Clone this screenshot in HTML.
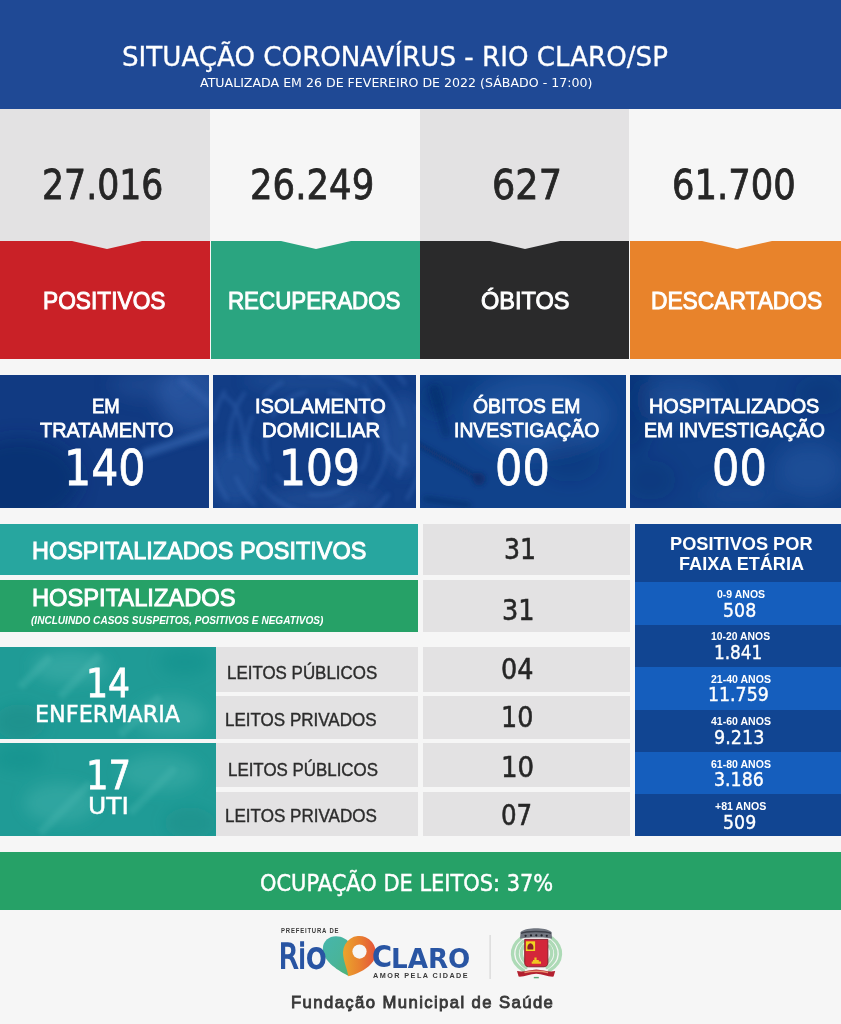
<!DOCTYPE html>
<html lang="pt-BR">
<head>
<meta charset="utf-8">
<title>Situação Coronavírus - Rio Claro/SP</title>
<style>
html,body{margin:0;padding:0;background:#f6f6f6;}
#board{position:relative;width:841px;height:1024px;overflow:hidden;background:#f6f6f6;font-family:"DejaVu Sans",sans-serif;}
.t{position:absolute;white-space:nowrap;line-height:1;color:#fff;transform-origin:0 0;font-family:"DejaVu Sans",sans-serif;font-weight:400;}
.t.o{font-family:"Liberation Sans",sans-serif;}
.t.b{font-weight:700;}
.t.i{font-style:italic;}
.top{position:absolute;left:0;top:0;width:841px;height:109px;background:#1f4995;}
.card .val,.card .tag,.card .notch{position:absolute;}
.card .val{top:109px;height:131.7px;}
.card .tag{top:240.7px;height:117.9px;}
.card.red .val,.card.red .tag{left:0;width:209.8px;}
.card.green .val,.card.green .tag{left:211px;width:209px;}
.card.dark .val,.card.dark .tag{left:420px;width:209.4px;}
.card.orange .val,.card.orange .tag{left:630.2px;width:210.8px;}
.card.red .val,.card.dark .val{background:#e3e2e3;}
.card.green .val,.card.orange .val{background:#f6f6f6;}
.card.red .tag{background:#c92127;}
.card.green .tag{background:#2aa580;}
.card.dark .tag{background:#2a2a2b;}
.card.orange .tag{background:#e8832b;}
.card .notch{top:240.5px;width:0;height:0;border-left:35px solid transparent;border-right:35px solid transparent;border-top:8.5px solid #e3e2e3;}
.card.green .notch,.card.orange .notch{border-top-color:#f6f6f6;}
.card.red .notch{left:72px;}
.card.green .notch{left:281px;}
.card.dark .notch{left:490px;}
.card.orange .notch{left:702px;}
.st{position:absolute;top:374.7px;height:133px;background:#113a82;overflow:hidden;}
.st1{left:0;width:208.9px;}
.st2{left:212.6px;width:203.7px;background:#123d86;}
.st3{left:420.2px;width:205.6px;background:#10428b;}
.st4{left:629.9px;width:211.1px;background:#103f87;}
.bar,.vc,.lc,.ward{position:absolute;}
.bar{left:0;width:417.6px;}
.hp{top:523.6px;height:51.8px;background:#27a69f;}
.hh{top:580.1px;height:51.8px;background:#26a167;}
.vc{left:422.8px;width:207.4px;background:#e3e2e3;}
.v1{top:523.6px;height:51.8px;}
.v2{top:580.1px;height:51.8px;}
.ward{left:0;width:215.9px;background:#1f9b96;overflow:hidden;}
.w1{top:646.8px;height:92px;}
.w2{top:743.3px;height:93px;}
.lc{left:216px;width:202px;background:#e3e2e3;}
.l1,.r1{top:646.8px;height:44.8px;}
.l2,.r2{top:695.7px;height:43.2px;}
.l3,.r3{top:743.3px;height:43.7px;}
.l4,.r4{top:791.7px;height:44.6px;}
.ages .ah,.ages .ar{position:absolute;left:634.7px;width:206.3px;}
.ah{top:523.6px;height:58.9px;background:#114592;}
.ar{height:42.5px;background:#155ebd;}
.a1{top:582.4px}.a2{top:624.8px;background:#114592}.a3{top:667.2px}.a4{top:709.6px;background:#114592}.a5{top:752px}.a6{top:794.4px;height:41.9px;background:#114592}
.occ{position:absolute;left:0;top:851.8px;width:841px;height:58px;background:#26a167;}
.occ .t,.top .t{}
.foot svg{position:absolute;left:270px;top:920px;}
.tx{position:absolute;left:0;top:0;right:0;bottom:0;}
</style>
</head>
<body>
<main id="board">
<header><div class="top"></div>
<span class="t" style="left:121.98px;top:44.00px;font-size:26.71px;transform:scaleX(0.9785);-webkit-text-stroke:0.32px;">SITUAÇÃO CORONAVÍRUS - RIO CLARO/SP</span>
<span class="t" style="left:200.30px;top:78.00px;font-size:11.92px;transform:scaleX(1.0569);">ATUALIZADA EM 26 DE FEVEREIRO DE 2022 (SÁBADO - 17:00)</span>
</header>
<section class="totals">
<article class="card red"><div class="val"></div><div class="tag"></div><i class="notch"></i>
<span class="t" style="left:42.34px;top:165.20px;font-size:40.68px;transform:scaleX(0.8531);color:#262626;-webkit-text-stroke:0.81px;">27.016</span>
<span class="t o" style="left:43.22px;top:288.70px;font-size:24.20px;transform:scaleX(0.9393);-webkit-text-stroke:0.97px;">POSITIVOS</span>
</article>
<article class="card green"><div class="val"></div><div class="tag"></div><i class="notch"></i>
<span class="t" style="left:249.81px;top:165.20px;font-size:40.68px;transform:scaleX(0.8733);color:#262626;-webkit-text-stroke:0.81px;">26.249</span>
<span class="t o" style="left:228.22px;top:288.70px;font-size:24.20px;transform:scaleX(0.9231);-webkit-text-stroke:0.97px;">RECUPERADOS</span>
</article>
<article class="card dark"><div class="val"></div><div class="tag"></div><i class="notch"></i>
<span class="t" style="left:492.26px;top:165.20px;font-size:40.68px;transform:scaleX(0.9012);color:#262626;-webkit-text-stroke:0.81px;">627</span>
<span class="t o" style="left:480.70px;top:288.70px;font-size:24.20px;transform:scaleX(0.9726);-webkit-text-stroke:0.97px;">ÓBITOS</span>
</article>
<article class="card orange"><div class="val"></div><div class="tag"></div><i class="notch"></i>
<span class="t" style="left:672.11px;top:165.20px;font-size:40.68px;transform:scaleX(0.8704);color:#262626;-webkit-text-stroke:0.81px;">61.700</span>
<span class="t o" style="left:650.51px;top:288.70px;font-size:24.20px;transform:scaleX(0.9410);-webkit-text-stroke:0.97px;">DESCARTADOS</span>
</article>
</section>
<section class="status">
<article class="stc"><div class="st st1"><svg class="tx" width="209" height="133" viewBox="0 0 209 133" aria-hidden="true"><defs><filter id="c1" x="-20%" y="-20%" width="140%" height="140%"><feGaussianBlur stdDeviation="9"/></filter><filter id="c1s" x="-20%" y="-20%" width="140%" height="140%"><feGaussianBlur stdDeviation="2.8"/></filter></defs><g filter="url(#c1)"><ellipse cx="192" cy="22" rx="34" ry="34" fill="#3b6cb8" opacity=".45"/>
<ellipse cx="150" cy="10" rx="40" ry="14" fill="#3b6cb8" opacity=".25"/>
<ellipse cx="20" cy="105" rx="60" ry="42" fill="#0b2a66" opacity=".5"/></g>
<g filter="url(#c1s)"><path d="M212 56 L146 78" stroke="#3b6cb8" stroke-width="9" opacity=".55" stroke-linecap="round"/>
<path d="M212 30 L180 4" stroke="#3b6cb8" stroke-width="8" opacity=".35"/></g></svg></div>
<span class="t o" style="left:92.44px;top:395.60px;font-size:20.00px;transform:scaleX(0.9266);-webkit-text-stroke:0.80px;">EM</span>
<span class="t o" style="left:40.40px;top:420.00px;font-size:20.00px;transform:scaleX(0.9927);-webkit-text-stroke:0.80px;">TRATAMENTO</span>
<span class="t" style="left:63.57px;top:442.50px;font-size:50.00px;transform:scaleX(0.8538);-webkit-text-stroke:0.80px;">140</span>
</article>
<article class="stc"><div class="st st2"><svg class="tx" width="204" height="133" viewBox="0 0 204 133" aria-hidden="true"><defs><filter id="c2" x="-20%" y="-20%" width="140%" height="140%"><feGaussianBlur stdDeviation="7"/></filter><filter id="c2s" x="-20%" y="-20%" width="140%" height="140%"><feGaussianBlur stdDeviation="2.2"/></filter></defs><g filter="url(#c2)"><ellipse cx="22" cy="100" rx="26" ry="30" fill="#3b6cb8" opacity=".3"/>
<ellipse cx="190" cy="60" rx="20" ry="40" fill="#3b6cb8" opacity=".28"/>
<ellipse cx="100" cy="6" rx="70" ry="12" fill="#3b6cb8" opacity=".22"/>
<ellipse cx="110" cy="124" rx="60" ry="12" fill="#3b6cb8" opacity=".25"/></g>
<g filter="url(#c2s)" fill="none" stroke="#3b6cb8" opacity=".42" stroke-width="3.5">
<circle cx="104" cy="68" r="52" stroke-dasharray="30 16 44 22 18 14"/>
<circle cx="104" cy="68" r="70" stroke-dasharray="50 20 26 18 60 24"/>
<circle cx="104" cy="68" r="88" stroke-dasharray="36 18 70 26 40 16"/>
<circle cx="104" cy="68" r="106" stroke-dasharray="60 22 34 20"/>
<path d="M10 20 C40 40 20 70 45 95"/><path d="M150 10 C170 40 160 70 195 90"/></g></svg></div>
<span class="t o" style="left:255.40px;top:395.60px;font-size:20.00px;transform:scaleX(0.9999);-webkit-text-stroke:0.80px;">ISOLAMENTO</span>
<span class="t o" style="left:262.39px;top:420.00px;font-size:20.00px;transform:scaleX(1.0126);-webkit-text-stroke:0.80px;">DOMICILIAR</span>
<span class="t" style="left:278.60px;top:442.50px;font-size:50.00px;transform:scaleX(0.8482);-webkit-text-stroke:0.80px;">109</span>
</article>
<article class="stc"><div class="st st3"><svg class="tx" width="205" height="133" viewBox="0 0 205 133" aria-hidden="true"><defs><filter id="c3" x="-20%" y="-20%" width="140%" height="140%"><feGaussianBlur stdDeviation="9"/></filter><filter id="c3s" x="-20%" y="-20%" width="140%" height="140%"><feGaussianBlur stdDeviation="2.8"/></filter></defs><g filter="url(#c3)"><ellipse cx="120" cy="40" rx="70" ry="40" fill="#3b6cb8" opacity=".3"/>
<ellipse cx="16" cy="22" rx="16" ry="18" fill="#0b2a66" opacity=".5"/><ellipse cx="45" cy="8" rx="12" ry="9" fill="#0b2a66" opacity=".4"/>
<ellipse cx="150" cy="85" rx="30" ry="22" fill="#0b2a66" opacity=".22"/></g>
<g filter="url(#c3s)"><path d="M-4 68 L56 102" stroke="#0b2a66" stroke-width="5" opacity=".65" stroke-linecap="round"/>
<circle cx="59" cy="104" r="6.5" fill="#0b2a66" opacity=".75"/>
<path d="M6 124 L48 130" stroke="#0b2a66" stroke-width="6" opacity=".5" stroke-linecap="round"/>
<path d="M14 14 L26 58" stroke="#0b2a66" stroke-width="9" opacity=".4" stroke-linecap="round"/></g></svg></div>
<span class="t o" style="left:473.39px;top:395.60px;font-size:20.00px;transform:scaleX(0.9693);-webkit-text-stroke:0.80px;">ÓBITOS EM</span>
<span class="t o" style="left:454.42px;top:420.00px;font-size:20.00px;transform:scaleX(0.9680);-webkit-text-stroke:0.80px;">INVESTIGAÇÃO</span>
<span class="t" style="left:495.26px;top:442.50px;font-size:50.00px;transform:scaleX(0.8616);-webkit-text-stroke:0.80px;">00</span>
</article>
<article class="stc"><div class="st st4"><svg class="tx" width="211" height="133" viewBox="0 0 211 133" aria-hidden="true"><defs><filter id="c4" x="-20%" y="-20%" width="140%" height="140%"><feGaussianBlur stdDeviation="10"/></filter><filter id="c4s" x="-20%" y="-20%" width="140%" height="140%"><feGaussianBlur stdDeviation="3.1"/></filter></defs><g filter="url(#c4)"><ellipse cx="50" cy="25" rx="40" ry="22" fill="#3b6cb8" opacity=".28"/>
<ellipse cx="180" cy="95" rx="36" ry="28" fill="#3b6cb8" opacity=".3"/><ellipse cx="110" cy="120" rx="40" ry="14" fill="#3b6cb8" opacity=".2"/>
<ellipse cx="190" cy="20" rx="26" ry="20" fill="#0b2a66" opacity=".2"/><ellipse cx="20" cy="105" rx="26" ry="20" fill="#0b2a66" opacity=".2"/><ellipse cx="0" cy="30" rx="22" ry="50" fill="#0b2a66" opacity=".4"/></g></svg></div>
<span class="t o" style="left:648.81px;top:395.60px;font-size:20.00px;transform:scaleX(0.9910);-webkit-text-stroke:0.80px;">HOSPITALIZADOS</span>
<span class="t o" style="left:643.61px;top:420.00px;font-size:20.00px;transform:scaleX(0.9755);-webkit-text-stroke:0.80px;">EM INVESTIGAÇÃO</span>
<span class="t" style="left:711.76px;top:442.50px;font-size:50.00px;transform:scaleX(0.8616);-webkit-text-stroke:0.80px;">00</span>
</article>
</section>
<section class="hosp">
<div class="bar hp"></div><div class="bar hh"></div><div class="vc v1"></div><div class="vc v2"></div>
<span class="t o" style="left:31.50px;top:539.20px;font-size:24.20px;transform:scaleX(0.9690);-webkit-text-stroke:0.97px;">HOSPITALIZADOS POSITIVOS</span>
<span class="t o" style="left:31.50px;top:586.20px;font-size:24.20px;transform:scaleX(0.9788);-webkit-text-stroke:0.97px;">HOSPITALIZADOS</span>
<span class="t o b i" style="left:30.50px;top:613.70px;font-size:11.71px;transform:scaleX(0.8606);">(INCLUINDO CASOS SUSPEITOS, POSITIVOS E NEGATIVOS)</span>
<span class="t" style="left:504.30px;top:535.00px;font-size:28.77px;transform:scaleX(0.8763);color:#262626;-webkit-text-stroke:0.58px;">31</span>
<span class="t" style="left:501.67px;top:595.60px;font-size:28.63px;transform:scaleX(0.8937);color:#262626;-webkit-text-stroke:0.57px;">31</span>
<div class="ward w1"><svg class="tx" width="216" height="92" viewBox="0 0 216 92" aria-hidden="true"><defs><filter id="w1" x="-20%" y="-20%" width="140%" height="140%"><feGaussianBlur stdDeviation="7"/></filter><filter id="w1s" x="-20%" y="-20%" width="140%" height="140%"><feGaussianBlur stdDeviation="2.2"/></filter></defs><g filter="url(#w1)"><ellipse cx="70" cy="20" rx="38" ry="16" fill="#55bdb6" opacity=".35"/>
<ellipse cx="170" cy="70" rx="36" ry="20" fill="#55bdb6" opacity=".3"/><ellipse cx="20" cy="75" rx="26" ry="18" fill="#14857f" opacity=".35"/>
<ellipse cx="185" cy="15" rx="26" ry="14" fill="#14857f" opacity=".25"/></g>
<g filter="url(#w1s)" stroke="#55bdb6" stroke-width="8" opacity=".28" fill="none"><path d="M60 50 L100 8"/><path d="M120 88 L160 50"/><path d="M20 40 L50 10"/></g></svg></div><div class="ward w2"><svg class="tx" width="216" height="93" viewBox="0 0 216 93" aria-hidden="true"><defs><filter id="w2" x="-20%" y="-20%" width="140%" height="140%"><feGaussianBlur stdDeviation="7"/></filter><filter id="w2s" x="-20%" y="-20%" width="140%" height="140%"><feGaussianBlur stdDeviation="2.2"/></filter></defs><g filter="url(#w2)"><ellipse cx="60" cy="60" rx="36" ry="20" fill="#55bdb6" opacity=".3"/>
<ellipse cx="160" cy="30" rx="40" ry="18" fill="#55bdb6" opacity=".3"/><ellipse cx="190" cy="80" rx="26" ry="16" fill="#14857f" opacity=".3"/>
<ellipse cx="20" cy="15" rx="26" ry="14" fill="#14857f" opacity=".25"/></g>
<g filter="url(#w2s)" stroke="#55bdb6" stroke-width="8" opacity=".25" fill="none"><path d="M40 90 L90 40"/><path d="M130 70 L175 25"/></g></svg></div>
<div class="lc l1"></div><div class="vc r1"></div>
<div class="lc l2"></div><div class="vc r2"></div>
<div class="lc l3"></div><div class="vc r3"></div>
<div class="lc l4"></div><div class="vc r4"></div>
<span class="t" style="left:500.97px;top:655.30px;font-size:28.77px;transform:scaleX(0.8862);color:#262626;-webkit-text-stroke:0.58px;">04</span>
<span class="t" style="left:500.75px;top:703.60px;font-size:28.22px;transform:scaleX(0.9013);color:#262626;-webkit-text-stroke:0.56px;">10</span>
<span class="t" style="left:500.65px;top:754.30px;font-size:27.81px;transform:scaleX(0.9379);color:#262626;-webkit-text-stroke:0.56px;">10</span>
<span class="t" style="left:500.96px;top:802.20px;font-size:27.67px;transform:scaleX(0.8869);color:#262626;-webkit-text-stroke:0.55px;">07</span>
<span class="t" style="left:85.76px;top:665.00px;font-size:38.63px;transform:scaleX(0.8952);-webkit-text-stroke:0.77px;">14</span>
<span class="t" style="left:34.81px;top:702.60px;font-size:22.19px;transform:scaleX(1.0060);-webkit-text-stroke:0.44px;">ENFERMARIA</span>
<span class="t" style="left:85.69px;top:757.00px;font-size:38.63px;transform:scaleX(0.9159);-webkit-text-stroke:0.77px;">17</span>
<span class="t" style="left:88.15px;top:795.00px;font-size:22.60px;transform:scaleX(1.1038);-webkit-text-stroke:0.45px;">UTI</span>
<span class="t o" style="left:227.04px;top:665.30px;font-size:17.83px;transform:scaleX(0.9494);color:#2c2c2c;-webkit-text-stroke:0.39px;">LEITOS PÚBLICOS</span>
<span class="t o" style="left:224.95px;top:710.80px;font-size:18.12px;transform:scaleX(0.9392);color:#2c2c2c;-webkit-text-stroke:0.40px;">LEITOS PRIVADOS</span>
<span class="t o" style="left:228.04px;top:761.50px;font-size:17.83px;transform:scaleX(0.9481);color:#2c2c2c;-webkit-text-stroke:0.39px;">LEITOS PÚBLICOS</span>
<span class="t o" style="left:225.43px;top:807.80px;font-size:17.83px;transform:scaleX(0.9556);color:#2c2c2c;-webkit-text-stroke:0.39px;">LEITOS PRIVADOS</span>
</section>
<aside class="ages">
<div class="ah"></div>
<div class="ar a1"></div>
<div class="ar a2"></div>
<div class="ar a3"></div>
<div class="ar a4"></div>
<div class="ar a5"></div>
<div class="ar a6"></div>
<span class="t o b" style="left:670.48px;top:536.00px;font-size:17.86px;transform:scaleX(1.0186);">POSITIVOS POR</span>
<span class="t o b" style="left:678.68px;top:555.70px;font-size:17.71px;transform:scaleX(1.0232);">FAIXA ETÁRIA</span>
<span class="t o b" style="left:716.50px;top:589.00px;font-size:10.86px;transform:scaleX(0.9682);">0-9 ANOS</span>
<span class="t" style="left:722.75px;top:600.60px;font-size:18.90px;transform:scaleX(0.9211);-webkit-text-stroke:0.38px;">508</span>
<span class="t o b" style="left:710.50px;top:631.40px;font-size:10.86px;transform:scaleX(0.9573);">10-20 ANOS</span>
<span class="t" style="left:714.38px;top:643.00px;font-size:18.90px;transform:scaleX(0.8943);-webkit-text-stroke:0.38px;">1.841</span>
<span class="t o b" style="left:710.50px;top:673.80px;font-size:10.86px;transform:scaleX(0.9702);">21-40 ANOS</span>
<span class="t" style="left:708.04px;top:685.40px;font-size:18.90px;transform:scaleX(0.9187);-webkit-text-stroke:0.38px;">11.759</span>
<span class="t o b" style="left:710.50px;top:716.20px;font-size:10.86px;transform:scaleX(0.9702);">41-60 ANOS</span>
<span class="t" style="left:713.95px;top:727.80px;font-size:18.90px;transform:scaleX(0.9306);-webkit-text-stroke:0.38px;">9.213</span>
<span class="t o b" style="left:710.50px;top:758.60px;font-size:10.86px;transform:scaleX(0.9702);">61-80 ANOS</span>
<span class="t" style="left:713.95px;top:770.20px;font-size:18.90px;transform:scaleX(0.9211);-webkit-text-stroke:0.38px;">3.186</span>
<span class="t o b" style="left:714.70px;top:801.00px;font-size:10.86px;transform:scaleX(0.9771);">+81 ANOS</span>
<span class="t" style="left:722.75px;top:812.60px;font-size:18.90px;transform:scaleX(0.9211);-webkit-text-stroke:0.38px;">509</span>
</aside>
<section class="occupancy"><div class="occ"></div>
<span class="t" style="left:259.89px;top:871.70px;font-size:22.88px;transform:scaleX(0.9153);-webkit-text-stroke:0.46px;">OCUPAÇÃO DE LEITOS: 37%</span>
</section>
<footer class="foot">
<svg width="300" height="70" viewBox="270 920 300 70" aria-label="Prefeitura de Rio Claro">
<defs>
<linearGradient id="gt" x1="0" y1="0" x2="1" y2="1"><stop offset="0" stop-color="#46b6ad"/><stop offset=".55" stop-color="#49b49a"/><stop offset="1" stop-color="#4fb36f"/></linearGradient>
<linearGradient id="go" x1="0" y1="0" x2="1" y2="0"><stop offset="0" stop-color="#eaa52d"/><stop offset=".5" stop-color="#e9812f"/><stop offset="1" stop-color="#e4543c"/></linearGradient>
</defs>
<path d="M348.5 976 C340 971.5 322.8 962 322.8 949 C322.8 941 329 936.3 336 936.3 C342 936.3 347.5 939.5 350 944 L352 970 Z" fill="url(#gt)"/>
<path d="M348.3 976.2 C347 968 343 960.5 343 952.3 A16.4 16.4 0 1 1 371.2 963.8 C365 970.5 356 974.5 348.3 976.2 Z" fill="url(#go)"/>
<circle cx="359.5" cy="951.6" r="7.1" fill="#f6f6f6"/>
<rect x="489.6" y="935" width="1" height="44" fill="#d0d0d0"/>
<g fill="none" stroke="#a6d8b0" stroke-width="3.300" stroke-linecap="round" opacity=".9">
<path d="M523.500 970.500 C509 962 509.500 947 521 938"/>
<path d="M526 967.500 C514.500 960 515 949 523 941.500"/>
<path d="M527.500 964 C520 958.500 520 951 523.800 946"/>
<path d="M549.500 970.500 C564 962 563.500 947 552 938"/>
<path d="M547 967.500 C558.500 960 558 949 550 941.500"/>
<path d="M545.500 964 C553 958.500 553 951 549.200 946"/>
</g>
<path d="M520 938.800 L520.600 932 C524 929.200 530 928.200 536 928.200 C542 928.200 548 929.200 551.500 932 L552.100 938.800 C546 937.200 526 937.200 520 938.800 Z" fill="#70757f"/>
<path d="M521 933.400 C526 930.800 546 930.800 551.200 933.400" fill="none" stroke="#3c4049" stroke-width="1.500"/>
<g fill="#23262c"><circle cx="525.600" cy="935.800" r="1.100"/><circle cx="531" cy="935.400" r="1.100"/><circle cx="536.300" cy="935.300" r="1.100"/><circle cx="541.600" cy="935.400" r="1.100"/><circle cx="546.800" cy="935.800" r="1.100"/></g>
<path d="M524.700 939.400 H547.900 V962.800 C547.900 965.200 546.200 966.800 544 966.800 H528.600 C526.400 966.800 524.700 965.200 524.700 962.800 Z" fill="#d3273a" stroke="#7d1b27" stroke-width=".9"/>
<rect x="525.900" y="941.300" width="9.200" height="9.700" fill="#f1d320"/>
<path d="M527.600 949.400 C526.800 946.400 528.200 943.600 530.400 943.200 C532.800 943.600 534 946.400 533.200 949.400 Z" fill="#8a1f2b"/>
<path d="M531.700 963.700 H541 V961.600 H538.800 V960 H536.600 V957.600 H534.400 V960 H533 V961.600 H531.700 Z" fill="#f0c721"/>
<path d="M517 971 C523.500 972.600 529.500 969.800 536.200 969.500 C543 969.800 549 972.600 555.200 971 L553.600 976.600 C548 977 542.400 973.800 536.200 973.700 C530 973.800 524.400 977 518.600 976.600 Z" fill="#b3202f"/>
<path d="M524.500 972.600 C531 970.800 541.500 970.800 548 972.600" fill="none" stroke="#e98f6e" stroke-width="1.300"/>
<path d="M533.800 977.600 H538.800" stroke="#5aa878" stroke-width="1.400"/>
</svg>

<span class="t o b" style="left:281.20px;top:928.20px;font-size:6.57px;transform:scaleX(0.9071);color:#3a3a3a;letter-spacing:.9px;">PREFEITURA DE</span>
<span class="t" style="left:279.25px;top:939.80px;font-size:33.70px;transform:scaleX(0.8231);color:#2955a3;-webkit-text-stroke:1.75px;">Ri</span>
<span class="t" style="left:306.30px;top:938.24px;font-size:35.69px;transform:scaleX(0.9430);color:#2955a3;-webkit-text-stroke:1.78px;">o</span>
<span class="t b" style="left:372.42px;top:941.39px;font-size:30.92px;transform:scaleX(0.8850);color:#2955a3;">C</span>
<span class="t b" style="left:390.96px;top:944.70px;font-size:26.99px;transform:scaleX(0.9705);color:#2955a3;">LARO</span>
<span class="t o b" style="left:373.30px;top:973.20px;font-size:6.57px;transform:scaleX(1.1047);color:#3a3a3a;letter-spacing:1.3px;">AMOR PELA CIDADE</span>
<span class="t o" style="left:291.12px;top:995.30px;font-size:16.81px;transform:scaleX(0.9946);color:#383838;-webkit-text-stroke:0.84px;letter-spacing:1.4px;">Fundação Municipal de Saúde</span>
</footer>
</main>
</body>
</html>
